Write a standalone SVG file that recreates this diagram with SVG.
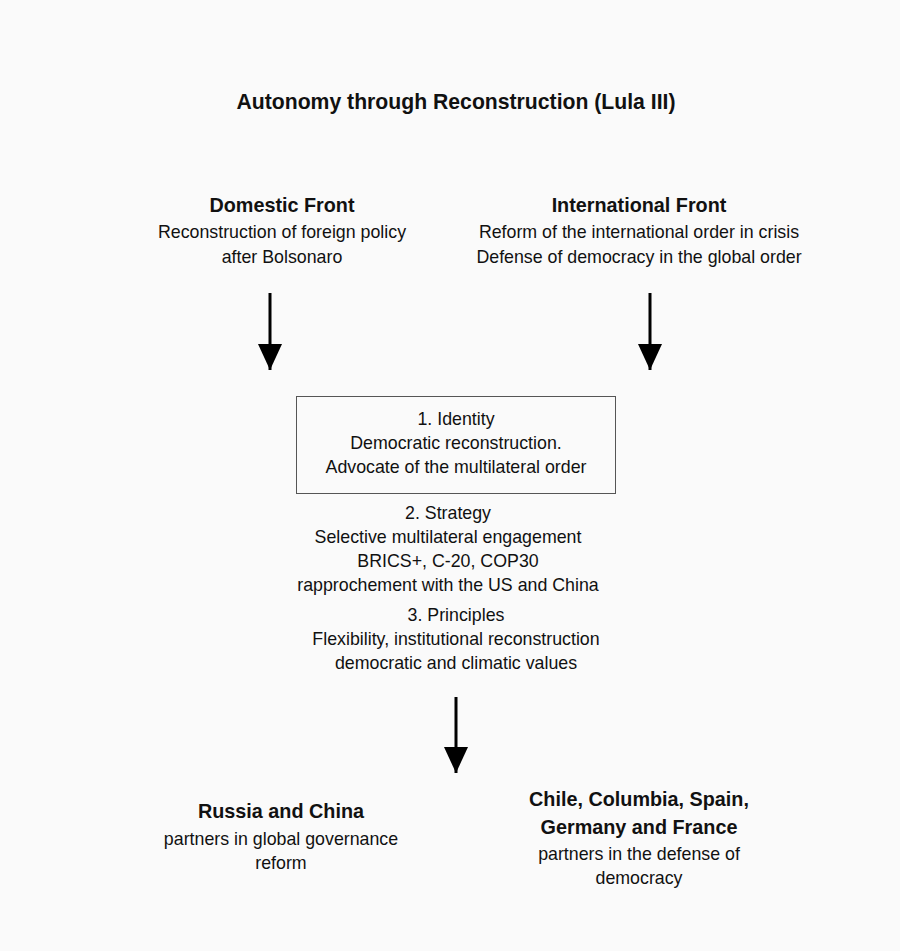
<svg xmlns="http://www.w3.org/2000/svg" width="900" height="951" viewBox="0 0 900 951">
<defs>
<marker id="ah" viewBox="0 0 26 24" refX="26" refY="12" markerWidth="26" markerHeight="24" markerUnits="userSpaceOnUse" orient="auto">
<path d="M0,0 L26,12 L0,24 Z" fill="#000"/>
</marker>
</defs>
<style>
text{font-family:"Liberation Sans",Arial,sans-serif;fill:#111;text-anchor:middle}
.t{font-size:21.2px;font-weight:bold}
.h{font-size:19.8px;font-weight:bold}
.b{font-size:17.8px}
.c{stroke:#000;stroke-width:3;fill:none}
</style>
<rect width="900" height="951" fill="#fafafa"/>
<g id="title"><text class="t" x="456" y="109">Autonomy through Reconstruction (Lula III)</text></g>
<g id="domestic">
<text class="h" x="282" y="212">Domestic Front</text>
<text class="b" x="282" y="238">Reconstruction of foreign policy</text>
<text class="b" x="282" y="263">after Bolsonaro</text>
</g>
<g id="international">
<text class="h" x="639" y="212">International Front</text>
<text class="b" x="639" y="238">Reform of the international order in crisis</text>
<text class="b" x="639" y="263">Defense of democracy in the global order</text>
</g>
<g id="core">
<rect x="296.5" y="396.5" width="319" height="97" fill="none" stroke="#555" stroke-width="1"/>
<text class="b" x="456" y="425">1. Identity</text>
<text class="b" x="456" y="449">Democratic reconstruction.</text>
<text class="b" x="456" y="473">Advocate of the multilateral order</text>
<text class="b" x="448" y="519">2. Strategy</text>
<text class="b" x="448" y="543">Selective multilateral engagement</text>
<text class="b" x="448" y="567">BRICS+, C-20, COP30</text>
<text class="b" x="448" y="591">rapprochement with the US and China</text>
<text class="b" x="456" y="621">3. Principles</text>
<text class="b" x="456" y="645">Flexibility, institutional reconstruction</text>
<text class="b" x="456" y="669">democratic and climatic values</text>
</g>
<g id="russia">
<text class="h" x="281" y="818">Russia and China</text>
<text class="b" x="281" y="845">partners in global governance</text>
<text class="b" x="281" y="869">reform</text>
</g>
<g id="chile">
<text class="h" x="639" y="806">Chile, Columbia, Spain,</text>
<text class="h" x="639" y="834">Germany and France</text>
<text class="b" x="639" y="860">partners in the defense of</text>
<text class="b" x="639" y="884">democracy</text>
</g>
<g id="connectors">
<line class="c" x1="270" y1="293" x2="270" y2="370" marker-end="url(#ah)"/>
<line class="c" x1="650" y1="293" x2="650" y2="370" marker-end="url(#ah)"/>
<line class="c" x1="456" y1="697" x2="456" y2="773" marker-end="url(#ah)"/>
</g>
</svg>
